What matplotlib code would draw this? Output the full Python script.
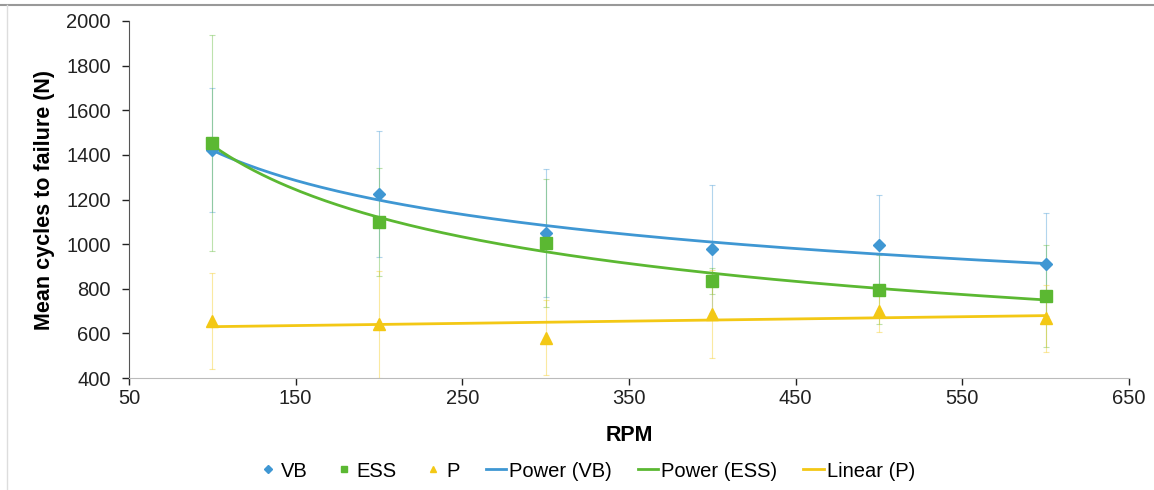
import numpy as np
import matplotlib
matplotlib.use("Agg")
import matplotlib.pyplot as plt
from matplotlib.lines import Line2D

plt.rcParams['font.family'] = ['Liberation Sans', 'DejaVu Sans']

rpm = [100, 200, 300, 400, 500, 600]
vb = [1422, 1225, 1050, 978, 996, 910]
vb_err = [278, 283, 285, 287, 224, 230]
ess = [1452, 1100, 1003, 835, 795, 767]
ess_err = [485, 242, 287, 60, 155, 229]
p = [655, 640, 580, 687, 700, 667]
p_err = [215, 240, 168, 197, 95, 150]

blue = '#3F97D3'
green = '#5BB832'
yellow = '#F3C815'

fig = plt.figure(figsize=(11.54, 4.9), dpi=100)
ax = fig.add_axes([129/1154, 1-378/490, 1000/1154, 357/490])

x = np.array(rpm, dtype=float)
xs = np.linspace(100, 600, 200)

# trend lines (as the spreadsheet would fit them)
bv, av = np.polyfit(np.log(x), np.log(vb), 1)
be, ae = np.polyfit(np.log(x), np.log(ess), 1)
mp, cp = np.polyfit(x, p, 1)
ax.plot(xs, np.exp(av) * xs**bv, color=blue, lw=2, zorder=3)
ax.plot(xs, np.exp(ae) * xs**be, color=green, lw=2, zorder=3)
ax.plot(xs, mp * xs + cp, color=yellow, lw=2, zorder=3)

for vals, err, c, m, ms in [(vb, vb_err, blue, 'D', 6),
                            (ess, ess_err, green, 's', 8),
                            (p, p_err, yellow, '^', 8)]:
    ax.errorbar(x, vals, yerr=err, fmt='none', ecolor=c, elinewidth=0.8,
                capsize=2, capthick=0.8, alpha=0.4, zorder=2)
    ax.plot(x, vals, linestyle='none', marker=m, color=c, ms=ms, zorder=4)

ax.set_xlim(50, 650)
ax.set_ylim(400, 2000)
ax.set_xticks(range(50, 651, 100))
ax.set_yticks(range(400, 2001, 200))
ax.tick_params(labelsize=14.5, colors='#222222', length=5, width=1)
ax.tick_params(axis='y', pad=8)
ax.tick_params(axis='x', pad=3)
ax.spines['top'].set_visible(False)
ax.spines['right'].set_visible(False)
ax.spines['left'].set_color('#555555')
ax.spines['bottom'].set_color('#bbbbbb')
ax.set_xlabel('RPM', fontsize=15.5, fontweight='bold', labelpad=12)
ax.set_ylabel('Mean cycles to failure (N)', fontsize=15.5, fontweight='bold', labelpad=8)

handles = [
    Line2D([], [], ls='none', marker='D', color=blue, ms=4),
    Line2D([], [], ls='none', marker='s', color=green, ms=5),
    Line2D([], [], ls='none', marker='^', color=yellow, ms=5),
    Line2D([], [], color=blue, lw=2),
    Line2D([], [], color=green, lw=2),
    Line2D([], [], color=yellow, lw=2),
]
labels = ['VB', 'ESS', 'P', 'Power (VB)', 'Power (ESS)', 'Linear (P)']
fig.legend(handles, labels, loc='center', bbox_to_anchor=(0.508, 1-471/490), ncol=6,
           frameon=False, fontsize=14.5, handlelength=1.0, handletextpad=0.15,
           columnspacing=1.3)

fig.add_artist(Line2D([0, 1], [1-5/490, 1-5/490], color='#999999', lw=1.5))
fig.add_artist(Line2D([7/1154, 7/1154], [0, 1-5/490], color='#dddddd', lw=1))

fig.savefig('out.png', dpi=100)
